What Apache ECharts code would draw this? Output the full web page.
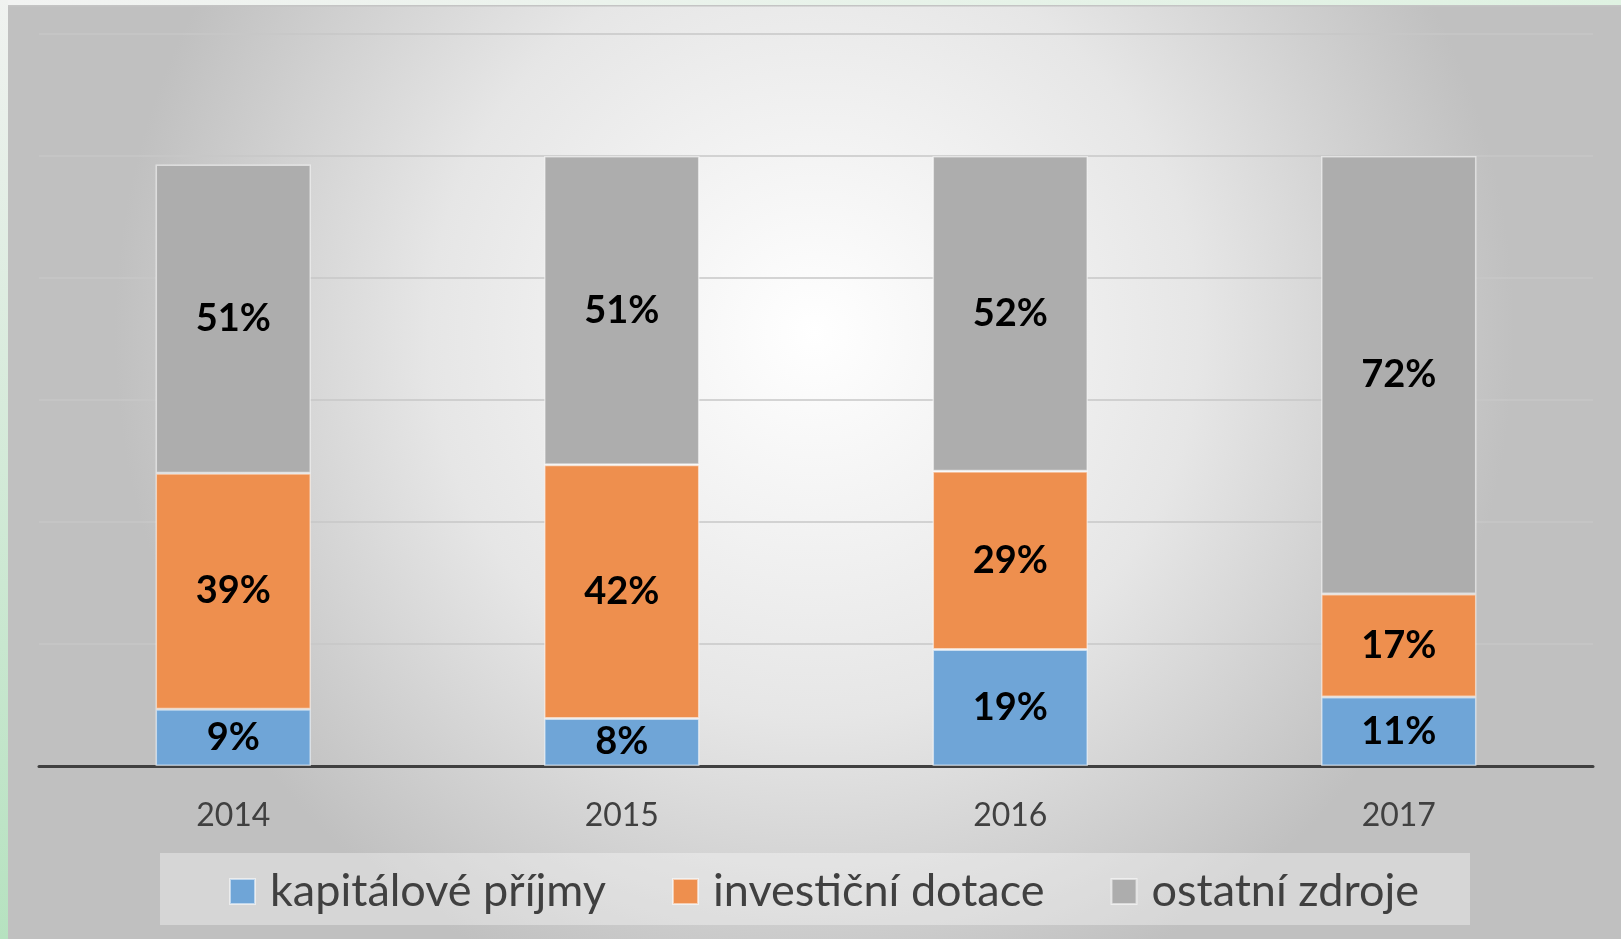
<!DOCTYPE html>
<html>
<head>
<meta charset="utf-8">
<script src="https://cdn.jsdelivr.net/npm/echarts@6/dist/echarts.min.js"></script>
<style>
  html, body { margin: 0; padding: 0; background: #f2f2f2; }
  #chart { width: 1621px; height: 939px; }
</style>
</head>
<body>
<div id="chart"></div>
<script>
// roky a podíly zdrojů (v %)
const years = ['2014', '2015', '2016', '2017'];
const kapitalove = [9.3, 7.8, 19.1, 11.3];
const dotace = [38.7, 41.6, 29.2, 16.9];
const ostatni = [50.6, 50.6, 51.7, 71.8];
const names = ['kapitálové příjmy', 'investiční dotace', 'ostatní zdroje'];
const colors = ['#6fa5d7', '#ee8f4e', '#adadad'];

const chart = echarts.init(document.getElementById('chart'));
const FONT = 'Lato, "Noto Sans", sans-serif';

function serie(name, data, color) {
  return {
    name: name,
    type: 'bar',
    stack: 'celkem',
    barWidth: '40%',
    data: data,
    itemStyle: { color: color, borderColor: 'rgba(255,255,255,0.55)', borderWidth: 1.5 },
    label: {
      show: true,
      position: 'inside',
      formatter: p => Math.round(p.value) + '%',
      color: '#000',
      fontFamily: FONT,
      fontWeight: 'bold',
      fontSize: 38
    }
  };
}

chart.setOption({
  backgroundColor: '#f2f3f2',
  animation: false,
  graphic: [
    // pozadí snímku s radiálním přechodem
    { type: 'rect', z: -10, shape: { x: 8, y: 6, width: 1613, height: 933 },
      style: { fill: new echarts.graphic.RadialGradient(0.5, 0.35, 0.75, [
        { offset: 0, color: '#ffffff' },
        { offset: 0.55, color: '#e6e6e6' },
        { offset: 1, color: '#c0c0c0' }
      ]) } },
    { type: 'rect', z: -9, shape: { x: 8, y: 5, width: 1613, height: 1.5 }, style: { fill: '#c4c4c4' } },
    { type: 'rect', z: -9, shape: { x: 0, y: 0, width: 8, height: 939 },
      style: { fill: new echarts.graphic.LinearGradient(0, 0, 0, 1, [
        { offset: 0, color: '#f0f2f0' },
        { offset: 1, color: '#b6e2c0' }
      ]) } },
    { type: 'rect', z: -9, shape: { x: 8, y: 0, width: 1613, height: 5 },
      style: { fill: new echarts.graphic.LinearGradient(0, 0, 1, 0, [
        { offset: 0, color: '#f2f3f2' },
        { offset: 1, color: '#dff2e2' }
      ]) } },
    // podklad legendy
    { type: 'rect', z: -5, shape: { x: 160, y: 853, width: 1310, height: 72 },
      style: { fill: 'rgba(255,255,255,0.35)' } }
  ],
  grid: { left: 39, right: 28, top: 34, bottom: 173 },
  legend: {
    data: names,
    left: 224,
    top: 864,
    itemWidth: 25,
    itemHeight: 25,
    itemGap: 66,
    icon: 'rect',
    textStyle: { fontFamily: FONT, fontSize: 45, color: '#404040', padding: [0, 0, 0, 10] }
  },
  xAxis: {
    type: 'category',
    data: years,
    axisLine: { lineStyle: { color: '#404040', width: 3 } },
    axisTick: { show: false },
    axisLabel: { color: '#404040', fontFamily: FONT, fontSize: 32, margin: 34 }
  },
  yAxis: {
    type: 'value',
    min: 0,
    max: 120,
    interval: 20,
    axisLabel: { show: false },
    axisLine: { show: false },
    axisTick: { show: false },
    splitLine: { lineStyle: { color: '#c7c7c7', width: 1.5 } }
  },
  series: [
    serie(names[0], kapitalove, colors[0]),
    serie(names[1], dotace, colors[1]),
    serie(names[2], ostatni, colors[2])
  ]
});
</script>
</body>
</html>
